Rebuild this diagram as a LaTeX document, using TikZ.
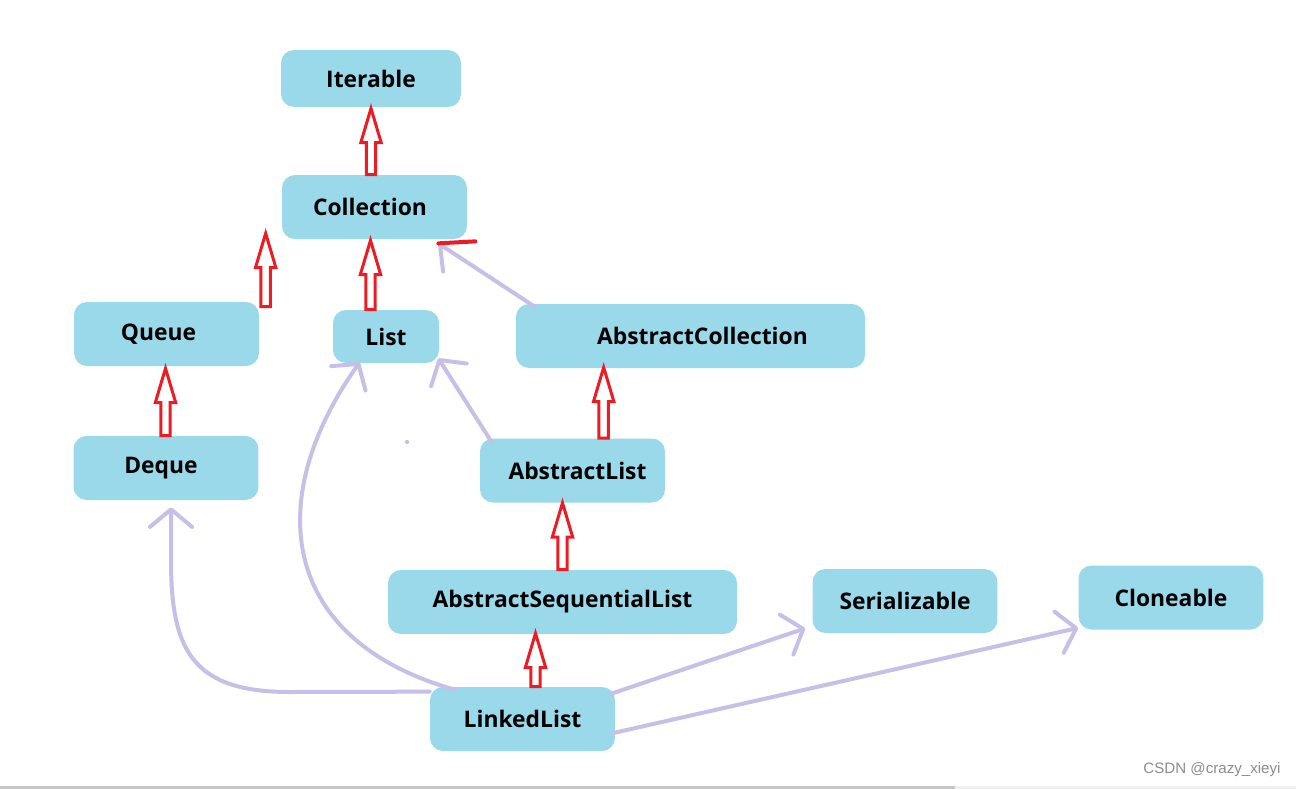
\documentclass[tikz,border=0pt]{standalone}
\usepackage{fontspec}
\setmainfont{Open Sans}
\newfontfamily\wmfont{Liberation Sans}
\usetikzlibrary{arrows.meta,calc}
\definecolor{boxblue}{RGB}{153,217,234}
\definecolor{inhred}{RGB}{237,28,36}
\definecolor{implav}{RGB}{200,191,231}
\tikzset{
  cls/.style={fill=boxblue, rounded corners=0.26cm, minimum width=3.7cm, minimum height=1.28cm,
              inner sep=0pt, font=\fontsize{13pt}{15pt}\selectfont\bfseries},
  wide/.style={minimum width=6.98cm},
  nudge/.style={execute at begin node={\hspace*{#1}}},
  inh/.style={draw=inhred, fill=white, line width=0.06cm},
  imp/.style={draw=implav, line width=0.08cm, line cap=round, -{Straight Barb[length=10pt, width=24pt, round]}},
  half/.style={-{Straight Barb[length=10pt, width=24pt, round, harpoon]}},
  redmark/.style={draw=inhred, line width=0.08cm, line cap=round}
}
% hollow block arrow: tail height from #1, tip at #2
\newcommand{\inharrow}[2]{\draw[inh] let \p1=#1, \p2=#2 in
  (\x2,\y2) -- (\x2+5.8pt,\y2-19.5pt) -- (\x2+2.7pt,\y2-19.5pt) -- (\x2+2.7pt,\y1)
  -- (\x2-2.7pt,\y1) -- (\x2-2.7pt,\y2-19.5pt) -- (\x2-5.8pt,\y2-19.5pt) -- cycle;}

\begin{document}
\begin{tikzpicture}[x=0.02cm, y=-0.02cm]
\fill[white] (0,0) rectangle (1296,789);
\useasboundingbox (0,0) rectangle (1296,789);
\node[cls, minimum width=3.6cm, minimum height=1.14cm] (iter) at (371,78.5) {Iterable};
\node[cls, nudge=-0.18cm] (coll) at (374.5,207) {Collection};
\node[cls, nudge=-0.32cm] (queue) at (166.5,334) {Queue};
\node[cls, minimum width=2.12cm, minimum height=1.06cm] (list) at (386,336.5) {List};
\node[cls, wide, nudge=0.48cm] (ac) at (690.5,336) {AbstractCollection};
\node[cls, nudge=-0.2cm] (deque) at (166,468) {Deque};
\node[cls, nudge=0.2cm] (al) at (572.5,470.5) {AbstractList};
\node[cls, wide] (asl) at (562.5,602) {AbstractSequentialList};
\node[cls] (ser) at (905,601) {Serializable};
\node[cls] (clo) at (1171,597.5) {Cloneable};
\node[cls] (ll) at (522.5,719) {LinkedList};
% extends
\inharrow{(coll.north)}{($(iter.south)+(0,1)$)}
\inharrow{(list.north)}{($(coll.south)+(-4,1)$)}
\inharrow{($(queue.north east)+(0,5)$)}{($(coll.south west)+(-16,-6)$)}
\inharrow{(deque.north)}{($(queue.south)+(-1,2)$)}
\inharrow{(al.north)}{($(ac.south west)+(88,-1)$)}
\inharrow{(asl.north)}{(asl.north |- al.south)}
\inharrow{(ll.north)}{($(asl.south)+(-27,-1)$)}
% implements
\draw[imp, half] ($(ac.north west)+(19,3)$) coordinate (a0) -- ($(coll.south east)+(-29,4)$) coordinate (a1);
\draw[redmark] (a1) -- ++(37,-2);
\draw[imp] ($(al.north west)+(12,4)$) -- ($(list.south east)+(-1,-5)$);
\draw[imp] ($(ll.north west)+(25,3)$) .. controls (280,640) and (262,500) .. ($(list.south west)+(27,-1)$);
\draw[imp] ($(ll.north west)+(0,5)$) -- (290,692) .. controls (192,692) and (171,650) .. (171,560)
  -- ($(deque.south)+(5,7)$);
\draw[imp] ($(ll.north east)+(-4,7)$) -- ($(ser.south west)+(-7,-5)$);
\draw[imp] ($(ll.east)+(-2,14)$) -- ($(clo.south west)+(0,-2)$);
\fill[implav] (407,442) circle (1.2pt);
% footer
\node[font=\wmfont\fontsize{8.6pt}{10pt}\selectfont, text=black!45] (wm) at (1212,770) {CSDN @crazy\_xieyi};
\fill[black!22] (0,786) rectangle (955,789);
\fill[black!6] (955,786) rectangle (1296,789);
\end{tikzpicture}
\end{document}
